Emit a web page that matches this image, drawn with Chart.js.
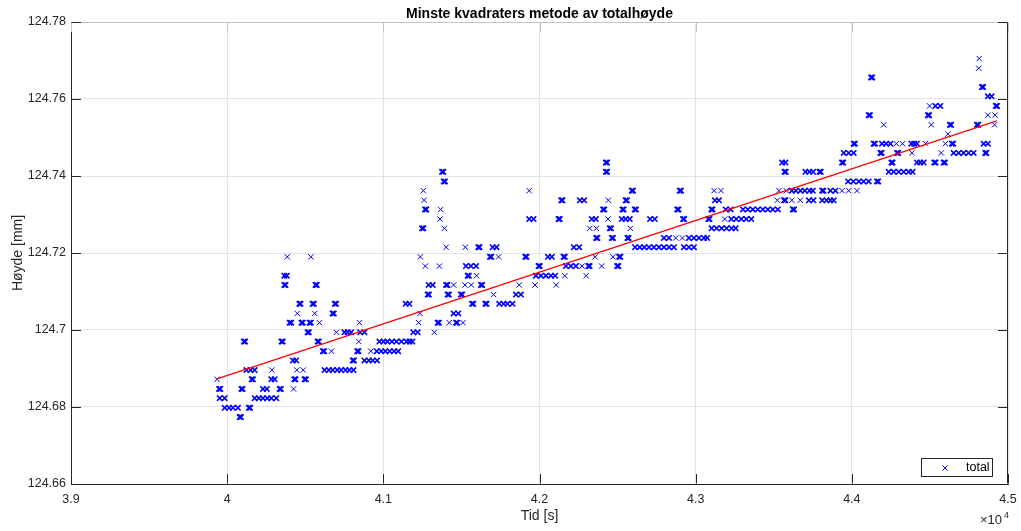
<!DOCTYPE html>
<html>
<head>
<meta charset="utf-8">
<script src="https://cdn.jsdelivr.net/npm/chart.js@4/dist/chart.umd.min.js"></script>
<style>
  html, body { margin: 0; padding: 0; background: #ffffff; }
  #wrap { width: 1021px; height: 531px; }
</style>
</head>
<body>
<div id="wrap"><canvas id="c" width="1021" height="531"></canvas></div>
<script>
// Texts
const tittel = 'Minste kvadraters metode av totalhøyde';
const xTittel = 'Tid [s]';
const yTittel = 'Høyde [mm]';
const serieNavn = 'total';

// Axis ticks
const xTickVerdier = [39000, 40000, 41000, 42000, 43000, 44000, 45000];
const xTickEtiketter = ['3.9', '4', '4.1', '4.2', '4.3', '4.4', '4.5'];
const yTickVerdier = [124.66, 124.68, 124.70, 124.72, 124.74, 124.76, 124.78];
const yTickEtiketter = ['124.66', '124.68', '124.7', '124.72', '124.74', '124.76', '124.78'];

// Measured heights [mm] (the instrument resolves in discrete steps)
const nivaa = [
  124.6774, 124.6798, 124.6823, 124.6847, 124.6872, 124.6896, 124.6921, 124.6945,
  124.6970, 124.6994, 124.7019, 124.7043, 124.7068, 124.7092, 124.7117, 124.7141,
  124.7166, 124.7190, 124.7215, 124.7239, 124.7264, 124.7288, 124.7313, 124.7337,
  124.7362, 124.7386, 124.7411, 124.7435, 124.7460, 124.7484, 124.7509, 124.7533,
  124.7558, 124.7582, 124.7607, 124.7631, 124.7656, 124.7680, 124.7705
];

// Sample times [s] at which each height in `nivaa` was recorded
const tider = [
  [40080, 40088],
  [39984, 40012, 40037, 40069, 40139, 40147],
  [39952, 39984, 40176, 40203, 40229, 40257, 40283, 40315],
  [39948, 39956, 40091, 40099, 40229, 40254, 40336, 40344, 40425],
  [39935, 40157, 40165, 40283, 40304, 40430, 40438, 40496, 40504],
  [40123, 40150, 40176, 40286, 40446, 40487, 40623, 40651, 40676, 40705, 40730, 40758, 40783, 40809],
  [40421, 40442, 40804, 40812, 40879, 40907, 40932, 40960],
  [40613, 40621, 40668, 40833, 40841, 40920, 40958, 40986, 41013, 41041, 41069, 41095],
  [40107, 40115, 40348, 40356, 40579, 40587, 40843, 40975, 41001, 41026, 41055, 41084, 41116, 41148, 41168, 41186],
  [40515, 40523, 40700, 40751, 40772, 40794, 40852, 40879, 41192, 41220, 41327],
  [40400, 40410, 40476, 40484, 40528, 40536, 40591, 40847, 41226, 41348, 41356, 41422, 41466, 41472, 41510],
  [40449, 40561, 40675, 40683, 41235, 41450, 41480],
  [40462, 40470, 40547, 40555, 40689, 40697, 41143, 41167, 41568, 41576, 41653, 41661, 41742, 41770, 41795, 41827],
  [41284, 41292, 41412, 41420, 41497, 41505, 41706, 41849, 41881],
  [40366, 40374, 40566, 40574, 41290, 41316, 41402, 41410, 41450, 41523, 41563, 41625, 41633, 41870, 41971, 42107],
  [40366, 40382, 41540, 41548, 41597, 41977, 42009, 42041, 42073, 42100, 42162, 42299],
  [41269, 41359, 41529, 41561, 41594, 41994, 42002, 42169, 42201, 42233, 42272, 42313, 42321, 42398, 42497, 42505],
  [40385, 40536, 41237, 41683, 41691, 41738, 41909, 41917, 42054, 42079, 42154, 42162, 42356, 42470, 42510, 42518],
  [41402, 41525, 41608, 41616, 41700, 41725, 42220, 42254, 42612, 42642, 42671, 42701, 42733, 42765, 42797, 42829, 42861, 42925, 42957, 42989],
  [42363, 42371, 42463, 42471, 42563, 42571, 42797, 42829, 42872, 42915, 42957, 42989, 43021, 43053, 43074],
  [41248, 41256, 41391, 42322, 42364, 42450, 42458, 42582, 43102, 43134, 43166, 43198, 43230, 43256],
  [41363, 41934, 41962, 42122, 42130, 42335, 42361, 42439, 42527, 42552, 42578, 42708, 42738, 42919, 42927, 43081, 43089, 43186, 43228, 43260, 43292, 43324, 43356],
  [41267, 41275, 41367, 42407, 42415, 42531, 42539, 42610, 42618, 42882, 42890, 43100, 43108, 43192, 43224, 43303, 43334, 43366, 43398, 43430, 43462, 43494, 43526, 43622, 43630],
  [41261, 42139, 42147, 42258, 42286, 42441, 42552, 42560, 43123, 43149, 43523, 43566, 43574, 43616, 43670, 43725, 43754, 43810, 43838, 43863, 43884],
  [41256, 41934, 42591, 42599, 42898, 42906, 43118, 43162, 43533, 43580, 43616, 43641, 43671, 43699, 43729, 43750, 43810, 43818, 43863, 43895, 43937, 43980, 44033],
  [41387, 41395, 43976, 44010, 44045, 44075, 44108, 44161, 44169],
  [41376, 41384, 42425, 42433, 43569, 43577, 43703, 43728, 43752, 43793, 43801, 44236, 44268, 44300, 44332, 44364, 44389],
  [42425, 42433, 43554, 43575, 43937, 43945, 44253, 44261, 44417, 44438, 44460, 44528, 44536, 44588, 44596],
  [43948, 43980, 44012, 44183, 44191, 44289, 44297, 44385, 44573, 44652, 44684, 44716, 44748, 44780, 44854, 44862],
  [44012, 44020, 44140, 44148, 44193, 44220, 44247, 44285, 44325, 44381, 44399, 44417, 44471, 44599, 44641, 44649, 44844, 44871],
  [44615],
  [44204, 44509, 44628, 44636, 44801, 44809, 44914],
  [44108, 44116, 44487, 44495, 44871, 44918],
  [44498, 44535, 44567, 44922, 44930],
  [44871, 44895],
  [44833, 44841],
  [44123, 44131],
  [44812],
  [44816]
];

// Least-squares fit line: time span and fitted heights [mm] at its two ends
const linjeTid = [39935, 44928];
const linjeHoyde = [124.6873, 124.7543];

// Build the point table
const punkter = [];
nivaa.forEach((h, i) => tider[i].forEach(t => punkter.push({ x: t, y: h })));

// Samples lying close together at the same height overlap into a heavier mark
const tett = punkter.map(p => punkter.some(q => q !== p && q.y === p.y && Math.abs(q.x - p.x) < 36));

const linje = linjeTid.map((t, i) => ({ x: t, y: linjeHoyde[i] }));

const FONT = '"Liberation Sans", Arial, Helvetica, sans-serif';
const AKSEFARGE = '#262626';
const TOPPFARGE = '#c4c4c4';

// Box, inward ticks, titles and legend in the usual engineering-plot style
const ramme = {
  id: 'ramme',
  afterDraw(chart) {
    const { ctx, chartArea: a, scales: { x, y } } = chart;
    const L = Math.round(a.left) + 0.5;
    const R = Math.round(a.right) - 0.5;
    const T = Math.round(a.top) + 0.5;
    const B = Math.round(a.bottom) - 0.5;
    const tl = 9.5;
    ctx.save();
    ctx.lineWidth = 1;

    // top edge and its ticks are rendered lighter
    ctx.strokeStyle = TOPPFARGE;
    ctx.beginPath();
    ctx.moveTo(L, T); ctx.lineTo(R, T);
    xTickVerdier.forEach(v => {
      const px = Math.round(x.getPixelForValue(v)) + 0.5;
      ctx.moveTo(px, T); ctx.lineTo(px, T + tl);
    });
    ctx.stroke();

    ctx.strokeStyle = AKSEFARGE;
    ctx.beginPath();
    ctx.moveTo(R, T); ctx.lineTo(R, B);
    xTickVerdier.forEach(v => {
      const px = Math.round(x.getPixelForValue(v)) + 0.5;
      ctx.moveTo(px, B); ctx.lineTo(px, B - tl);
    });
    yTickVerdier.forEach(v => {
      const py = Math.round(y.getPixelForValue(v)) + 0.5;
      ctx.moveTo(L, py); ctx.lineTo(L + tl, py);
      ctx.moveTo(R, py); ctx.lineTo(R - tl, py);
    });
    ctx.stroke();

    ctx.fillStyle = '#000000';
    ctx.textAlign = 'center';
    ctx.textBaseline = 'alphabetic';
    ctx.font = 'bold 14px ' + FONT;
    ctx.fillText(tittel, (a.left + a.right) / 2, 18);

    ctx.fillStyle = AKSEFARGE;
    ctx.font = '14px ' + FONT;
    ctx.fillText(xTittel, (a.left + a.right) / 2, 520);

    ctx.save();
    ctx.translate(22, (a.top + a.bottom) / 2);
    ctx.rotate(-Math.PI / 2);
    ctx.fillText(yTittel, 0, 0);
    ctx.restore();

    // Exponent of the x axis
    ctx.textAlign = 'left';
    ctx.font = '13px ' + FONT;
    ctx.fillText('\u00d710', 980, 523.5);
    ctx.font = '9px ' + FONT;
    ctx.fillText('4', 1004, 518);

    // Legend box
    const lx = 921.5, ly = 458.5, lw = 71, lh = 18;
    ctx.fillStyle = '#ffffff';
    ctx.fillRect(lx, ly, lw, lh);
    ctx.strokeStyle = AKSEFARGE;
    ctx.strokeRect(lx, ly, lw, lh);
    ctx.strokeStyle = '#0000ff';
    ctx.beginPath();
    Chart.helpers.drawPoint(ctx, { pointStyle: 'crossRot', radius: 3.7, borderWidth: 1 }, 945, 468);
    ctx.fillStyle = '#000000';
    ctx.font = '12.5px ' + FONT;
    ctx.textBaseline = 'middle';
    ctx.fillText(serieNavn, 966, 468);
    ctx.restore();
  }
};

new Chart(document.getElementById('c'), {
  type: 'scatter',
  data: {
    datasets: [
      {
        label: 'linje',
        type: 'line',
        data: linje,
        borderColor: '#ff0000',
        borderWidth: 1.3,
        pointRadius: 0,
        fill: false,
        order: 0
      },
      {
        label: serieNavn,
        data: punkter,
        showLine: false,
        pointStyle: 'crossRot',
        pointRadius: 3.8,
        borderColor: '#0000ff',
        backgroundColor: '#0000ff',
        pointBorderWidth: c => (tett[c.dataIndex] ? 1.6 : 1),
        order: 1
      }
    ]
  },
  options: {
    responsive: false,
    animation: false,
    devicePixelRatio: 1,
    events: [],
    layout: { padding: { left: 0, right: 13, top: 22, bottom: 0 } },
    plugins: {
      legend: { display: false },
      title: { display: false },
      tooltip: { enabled: false }
    },
    scales: {
      x: {
        type: 'linear',
        min: 39000,
        max: 45000,
        afterBuildTicks: s => { s.ticks = xTickVerdier.map(v => ({ value: v })); },
        afterFit: s => { s.height = 47; s.paddingLeft = 0; s.paddingRight = 0; },
        ticks: {
          autoSkip: false,
          maxRotation: 0,
          padding: 8,
          color: AKSEFARGE,
          font: { family: FONT, size: 12.5 },
          callback: (v, i) => xTickEtiketter[i]
        },
        grid: { color: '#e3e3e3', drawTicks: false, lineWidth: 1 },
        border: { display: true, color: AKSEFARGE, width: 1 }
      },
      y: {
        type: 'linear',
        min: 124.66,
        max: 124.78,
        afterBuildTicks: s => { s.ticks = yTickVerdier.map(v => ({ value: v })); },
        afterFit: s => { s.width = 71; s.paddingTop = 0; s.paddingBottom = 0; },
        ticks: {
          autoSkip: false,
          padding: 5,
          color: AKSEFARGE,
          font: { family: FONT, size: 12.5 },
          callback: (v, i) => yTickEtiketter[i]
        },
        grid: { color: '#e3e3e3', drawTicks: false, lineWidth: 1 },
        border: { display: true, color: AKSEFARGE, width: 1 }
      }
    }
  },
  plugins: [ramme]
});
</script>
</body>
</html>
